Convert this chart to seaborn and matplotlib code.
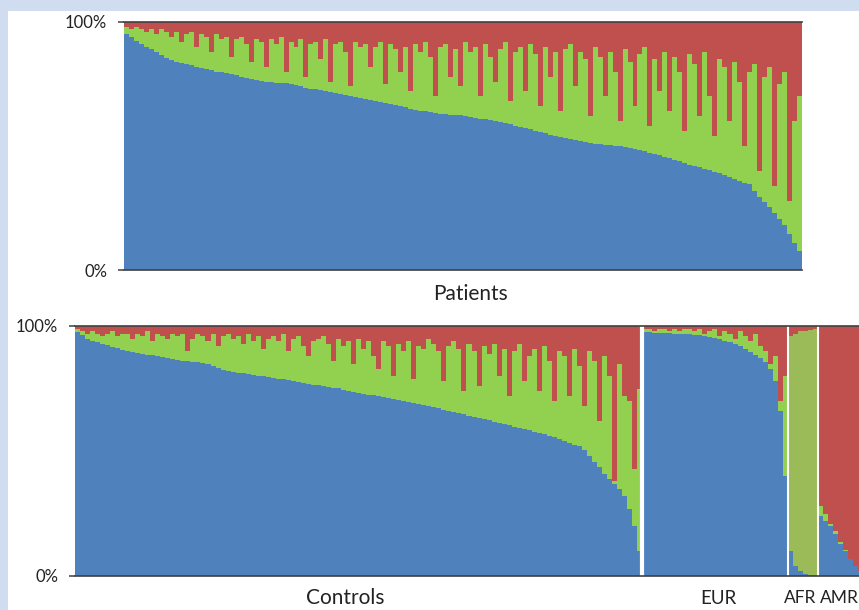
import numpy as np
import pandas as pd
import matplotlib.pyplot as plt
import seaborn as sns
from matplotlib.patches import Rectangle

sns.set_style('white')
plt.rcParams['font.family'] = ['Lato', 'DejaVu Sans']

BLUE = '#4f81bd'
GREEN = '#92d050'
OLIVE = '#9bbb59'
RED = '#c0504d'
BG = '#d0dcf0'
LINE = '#404040'

# ancestry proportions (%) per individual, blue and red components (green = remainder)
patients_blue = [95, 94, 92.5, 91, 90, 89, 88, 86.5, 85.5, 84.5,
                 84, 83.5, 83, 82.5, 82, 81.5, 81, 80.5, 80, 80,
                 79.5, 79, 78.5, 78, 77.5, 77, 76.5, 76.3, 76, 75.8,
                 75.6, 75.5, 75.3, 75, 74.5, 74, 73.5, 73, 72.8, 72.5,
                 72, 71.6, 71.2, 70.8, 70.4, 70, 69.6, 69.2, 68.8, 68.4,
                 68, 67.6, 67.3, 66.9, 66.5, 66, 65.6, 65.1, 64.7, 64.3,
                 64, 63.6, 63.3, 63, 62.8, 62.6, 62.5, 62.3, 62, 61.8,
                 61.4, 61, 60.8, 60.5, 60.2, 59.8, 59.3, 58.8, 58.2, 57.7,
                 57.3, 56.8, 56.2, 55.7, 55.1, 54.5, 54, 53.5, 53.2, 52.8,
                 52.5, 52, 51.6, 51.3, 51, 50.8, 50.5, 50.3, 50, 49.8,
                 49.6, 49.2, 48.8, 48.3, 47.8, 47.3, 46.8, 46.3, 45.7, 45,
                 44.4, 43.8, 43.2, 42.5, 42, 41.4, 40.8, 40.2, 39.6, 39,
                 38.4, 37.6, 36.8, 36, 35.2, 34.5, 32, 29.5, 27.5, 25.5,
                 23, 20.5, 18, 14.5, 11, 7.5]
patients_red = [2, 3, 2, 3, 4, 3, 5, 3, 4, 6,
                4, 8, 5, 4, 10, 5, 6, 12, 5, 7,
                6, 14, 7, 6, 9, 16, 7, 8, 18, 7,
                9, 6, 20, 8, 10, 7, 22, 9, 8, 15,
                7, 24, 9, 8, 12, 26, 8, 10, 9, 18,
                10, 8, 25, 9, 11, 20, 10, 28, 9, 12,
                8, 14, 30, 10, 9, 22, 11, 26, 8, 12,
                10, 30, 9, 14, 24, 11, 8, 32, 12, 10,
                28, 9, 13, 34, 10, 22, 12, 36, 11, 9,
                26, 12, 15, 38, 10, 14, 30, 12, 20, 40,
                11, 16, 34, 13, 10, 42, 15, 28, 12, 36,
                14, 20, 44, 13, 17, 38, 12, 30, 46, 15,
                18, 40, 16, 24, 50, 20, 17, 60, 22, 18,
                66, 25, 20, 72, 40, 30]

controls_blue = [97.5, 96.5, 95, 94, 93.5, 93, 92.4, 91.8, 91.2, 90.6,
                 90.2, 89.8, 89.4, 89, 88.6, 88.4, 88, 87.6, 87.2, 86.8,
                 86.5, 86.2, 86, 85.8, 85.6, 85.4, 84.8, 84, 83.3, 82.6,
                 82, 81.7, 81.4, 81.1, 80.8, 80.5, 80.2, 79.9, 79.7, 79.4,
                 79, 78.7, 78.3, 77.9, 77.5, 77.2, 76.9, 76.6, 76.3, 76,
                 75.7, 75.4, 75.1, 74.6, 74.1, 73.7, 73.3, 73, 72.6, 72.3,
                 71.9, 71.5, 71.2, 70.8, 70.4, 70, 69.6, 69.2, 68.8, 68.3,
                 67.9, 67.5, 67.1, 66.6, 66.2, 65.7, 65.2, 64.7, 64.2, 63.7,
                 63.2, 62.7, 62.3, 61.8, 61.3, 60.8, 60.3, 59.8, 59.4, 58.9,
                 58.4, 57.8, 57.2, 56.7, 56.1, 55.6, 54.9, 54.2, 53.4, 52.6,
                 51.9, 50.5, 48, 45.5, 43.5, 41, 39, 37, 35, 32,
                 27, 20, 10]
controls_red = [1, 2, 3, 2, 3, 4, 3, 2, 4, 3,
                3, 5, 3, 4, 2, 6, 3, 4, 5, 3,
                4, 3, 10, 5, 3, 4, 6, 3, 8, 4,
                3, 5, 4, 7, 3, 6, 4, 9, 5, 4,
                6, 3, 10, 5, 4, 8, 12, 6, 5, 4,
                7, 14, 5, 8, 6, 15, 5, 9, 6, 12,
                17, 6, 8, 20, 7, 10, 6, 21, 8, 9,
                5, 7, 10, 22, 8, 6, 9, 26, 7, 10,
                24, 8, 11, 7, 20, 9, 28, 10, 7, 22,
                12, 9, 26, 8, 14, 30, 10, 12, 28, 9,
                16, 32, 10, 14, 38, 12, 20, 62, 15, 28,
                30, 57, 25]

eur_blue = [97.5, 97.5, 97.4, 97.3, 97.2, 97.1, 97, 97, 96.9, 96.8,
            96.6, 96.4, 96.1, 95.7, 95.2, 94.7, 94.1, 93.5, 92.8, 92,
            91, 89.8, 88.6, 87.3, 85.5, 83, 78, 66, 40]
eur_red = [1, 1, 2, 1, 1, 2, 1, 2, 1, 1,
           2, 1, 3, 2, 1, 4, 2, 3, 5, 2,
           4, 6, 3, 8, 10, 15, 12, 30, 20]

afr_blue = [10, 4, 2, 1, 0.5, 0.5]
afr_red = [4, 3, 2, 2, 1.5, 1]

amr_blue = [24, 22, 20, 17, 13, 10, 7, 4, 2]
amr_red = [72, 75, 79, 82, 86.5, 89.5, 93, 96, 98]


def build(groups):
    frames = []
    start = 0
    for name, blue, red in groups:
        d = pd.DataFrame({'blue': blue, 'red': red})
        d['group'] = name
        d['pos'] = np.arange(start, start + len(d))
        start += len(d)
        frames.append(d)
    df = pd.concat(frames, ignore_index=True)
    df['green'] = 100 - df['blue'] - df['red']
    df['blue_green'] = df['blue'] + df['green']
    df['total'] = 100.0
    return df


def draw_stack(ax, df, green_pal):
    common = dict(x='pos', width=1, linewidth=0, saturation=1,
                  native_scale=True, errorbar=None, ax=ax)
    sns.barplot(data=df, y='total', color=RED, **common)
    sns.barplot(data=df, y='blue_green', hue='group', palette=green_pal,
                dodge=False, legend=False, **common)
    sns.barplot(data=df, y='blue', color=BLUE, **common)
    ax.set_ylim(0, 100)
    ax.set_yticks([0, 100])
    ax.set_yticklabels(['0%', '100%'])
    ax.set_xticks([])
    ax.set_xlabel('')
    ax.set_ylabel('')
    ax.tick_params(axis='y', left=True, length=4, width=1.1, color=LINE,
                   pad=8, labelsize=12, labelcolor='#222222')
    for s in ['left', 'right']:
        ax.spines[s].set_visible(False)
    for s in ['top', 'bottom']:
        ax.spines[s].set_color(LINE)
        ax.spines[s].set_linewidth(1.2)


df_top = build([('Patients', patients_blue, patients_red)])
df_bot = build([('Controls', controls_blue, controls_red),
                ('EUR', eur_blue, eur_red),
                ('AFR', afr_blue, afr_red),
                ('AMR', amr_blue, amr_red)])

W, H = 859, 610
fig = plt.figure(figsize=(W / 100, H / 100), dpi=100)
fig.patch.set_facecolor(BG)
fig.add_artist(Rectangle((8 / W, 0), 1, (H - 11) / H, transform=fig.transFigure,
                         facecolor='white', edgecolor='none', zorder=0))

ax1 = fig.add_axes([124 / W, 1 - 270 / H, 678 / W, 248 / H])
draw_stack(ax1, df_top, {'Patients': GREEN})
ax1.set_xlim(-0.5, len(df_top) - 0.5)

ax2 = fig.add_axes([75 / W, 1 - 576 / H, 784 / W, 250 / H])
draw_stack(ax2, df_bot, {'Controls': GREEN, 'EUR': GREEN, 'AFR': OLIVE, 'AMR': GREEN})
ax2.set_xlim(-0.5, 155.7)

# white separators between the reference groups
n_c, n_e, n_a = len(controls_blue), len(eur_blue), len(afr_blue)
ax2.axvline(n_c - 0.5, color='white', lw=3)
ax2.axvline(n_c + n_e - 0.5, color='white', lw=1.5)
ax2.axvline(n_c + n_e + n_a - 0.5, color='white', lw=1.5)

label_kw = dict(va='center', color='#222222')
fig.text(470 / W, 1 - 294 / H, 'Patients', ha='center', fontsize=15, **label_kw)
fig.text(345 / W, 1 - 598 / H, 'Controls', ha='center', fontsize=15, **label_kw)
fig.text(718 / W, 1 - 598 / H, 'EUR', ha='center', fontsize=13.5, **label_kw)
fig.text(816 / W, 1 - 598 / H, 'AFR', ha='right', fontsize=12.5, **label_kw)
fig.text(858.5 / W, 1 - 598 / H, 'AMR', ha='right', fontsize=12.5, **label_kw)

fig.savefig('out.png', dpi=100, facecolor=fig.get_facecolor())
